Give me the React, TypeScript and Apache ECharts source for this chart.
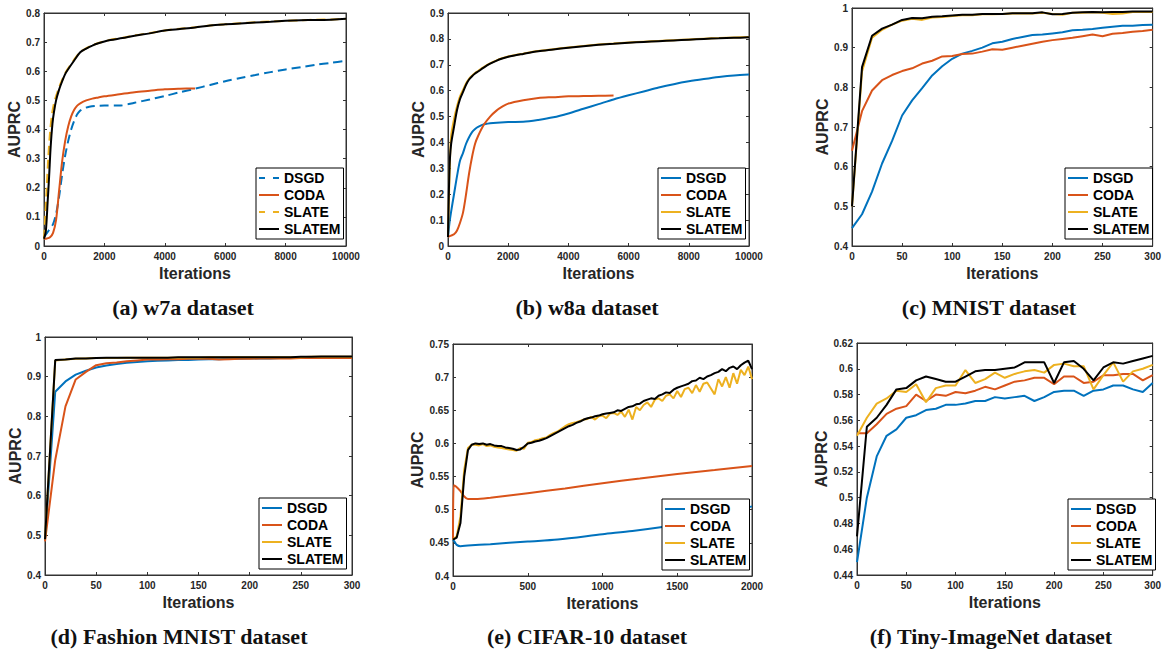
import React, { useEffect, useRef } from "react";
import * as echarts from "echarts";

const METHODS = ["DSGD", "CODA", "SLATE", "SLATEM"];
const COLORS = ["#0072BD", "#D95319", "#EDB120", "#000000"];

// ---------- (a) w7a ----------
const w7aDSGD = [[0,0.03],[100,0.045],[200,0.06],[300,0.075],[400,0.11],[500,0.17],[600,0.245],[700,0.31],[800,0.36],[900,0.4],[1000,0.43],[1100,0.452],[1200,0.465],[1300,0.472],[1500,0.478],[1700,0.481],[2000,0.482],[2500,0.482],[3000,0.492],[3500,0.503],[4000,0.515],[4500,0.528],[5000,0.54],[5500,0.553],[6000,0.566],[6500,0.577],[7000,0.587],[7500,0.597],[8000,0.606],[8500,0.614],[9000,0.622],[9500,0.629],[10000,0.636]];
const w7aCODA = [[0,0.025],[100,0.026],[200,0.03],[300,0.045],[400,0.09],[500,0.19],[600,0.29],[700,0.36],[800,0.41],[900,0.445],[1000,0.468],[1100,0.482],[1200,0.49],[1400,0.5],[1600,0.506],[1800,0.51],[2000,0.514],[2500,0.521],[3000,0.528],[3500,0.533],[4000,0.538],[4500,0.54],[5000,0.541]];
const w7aSLATE = [[0,0.025],[40,0.1],[90,0.2],[140,0.3],[200,0.39],[260,0.45],[330,0.49],[400,0.515],[500,0.545],[600,0.57],[700,0.593],[800,0.61],[1000,0.64],[1200,0.666],[1400,0.679],[1600,0.689],[1800,0.697],[2000,0.703],[2200,0.708],[2600,0.715],[3000,0.723],[3500,0.731],[4000,0.74],[4500,0.746],[5000,0.751],[5500,0.757],[6000,0.761],[6500,0.765],[7000,0.768],[7500,0.771],[8000,0.773],[8500,0.775],[9000,0.777],[9500,0.778],[10000,0.78]];
const w7aSLATEM = [[0,0.025],[60,0.05],[120,0.15],[170,0.24],[220,0.34],[280,0.42],[330,0.46],[400,0.5],[500,0.537],[600,0.565],[700,0.59],[800,0.607],[1000,0.637],[1200,0.665],[1400,0.678],[1600,0.688],[1800,0.696],[2000,0.702],[2200,0.707],[2600,0.714],[3000,0.722],[3500,0.73],[4000,0.74],[4500,0.745],[5000,0.75],[5500,0.757],[6000,0.761],[6500,0.764],[7000,0.767],[7500,0.77],[8000,0.773],[8500,0.775],[9000,0.776],[9500,0.777],[10000,0.78]];

// ---------- (b) w8a ----------
const w8aDSGD = [[0,0.035],[50,0.09],[100,0.13],[200,0.2],[300,0.27],[400,0.33],[500,0.36],[600,0.395],[700,0.42],[800,0.44],[900,0.452],[1000,0.46],[1200,0.47],[1500,0.475],[2000,0.479],[2500,0.48],[3000,0.487],[3500,0.497],[4000,0.512],[4500,0.53],[5000,0.548],[5500,0.566],[6000,0.582],[6500,0.597],[7000,0.612],[7500,0.625],[8000,0.636],[8500,0.645],[9000,0.653],[9500,0.659],[10000,0.662]];
const w8aCODA = [[0,0.035],[100,0.04],[200,0.045],[300,0.06],[400,0.09],[500,0.13],[600,0.2],[700,0.28],[800,0.345],[900,0.395],[1000,0.425],[1200,0.47],[1400,0.5],[1600,0.522],[1800,0.538],[2000,0.55],[2500,0.563],[3000,0.572],[3500,0.575],[4000,0.578],[4500,0.579],[5000,0.58],[5500,0.581]];
const w8aSLATE = [[0,0.035],[50,0.27],[100,0.42],[200,0.49],[300,0.54],[400,0.578],[500,0.603],[600,0.628],[700,0.646],[800,0.658],[900,0.668],[1000,0.676],[1200,0.692],[1400,0.705],[1600,0.716],[1800,0.725],[2000,0.732],[2500,0.743],[3000,0.753],[3500,0.76],[4000,0.767],[4500,0.773],[5000,0.778],[5500,0.782],[6000,0.786],[6500,0.789],[7000,0.792],[7500,0.795],[8000,0.798],[8500,0.801],[9000,0.803],[9500,0.805],[10000,0.807]];
const w8aSLATEM = [[0,0.035],[50,0.3],[100,0.39],[200,0.46],[300,0.525],[400,0.568],[500,0.595],[600,0.623],[700,0.643],[800,0.656],[900,0.666],[1000,0.674],[1200,0.69],[1400,0.704],[1600,0.715],[1800,0.724],[2000,0.731],[2500,0.742],[3000,0.752],[3500,0.759],[4000,0.766],[4500,0.772],[5000,0.777],[5500,0.781],[6000,0.785],[6500,0.788],[7000,0.791],[7500,0.794],[8000,0.797],[8500,0.8],[9000,0.802],[9500,0.804],[10000,0.806]];

// ---------- shared iteration grid for (c), (d), (f) ----------
const iters300 = [0,10,20,30,40,50,60,70,80,90,100,110,120,130,140,150,160,170,180,190,200,210,220,230,240,250,260,270,280,290,300];

// ---------- (c) MNIST ----------
const mnistDSGD = [0.445,0.48,0.537,0.608,0.665,0.729,0.767,0.798,0.83,0.853,0.872,0.885,0.892,0.9,0.911,0.915,0.922,0.927,0.932,0.933,0.936,0.939,0.944,0.945,0.947,0.95,0.953,0.955,0.955,0.957,0.958];
const mnistCODA = [0.64,0.74,0.792,0.818,0.831,0.841,0.848,0.86,0.867,0.878,0.879,0.884,0.885,0.89,0.896,0.895,0.9,0.905,0.91,0.915,0.919,0.922,0.925,0.929,0.933,0.929,0.935,0.937,0.94,0.942,0.945];
const mnistSLATE = [0.5,0.84,0.925,0.945,0.958,0.968,0.973,0.97,0.976,0.977,0.98,0.982,0.982,0.984,0.984,0.985,0.986,0.986,0.986,0.988,0.985,0.983,0.988,0.988,0.989,0.988,0.985,0.986,0.99,0.99,0.99];
const mnistSLATEM = [0.5,0.851,0.93,0.948,0.958,0.97,0.975,0.974,0.978,0.979,0.981,0.983,0.983,0.985,0.985,0.985,0.987,0.987,0.987,0.989,0.984,0.985,0.988,0.989,0.99,0.989,0.99,0.99,0.991,0.991,0.991];

// ---------- (d) Fashion MNIST ----------
const fmnistDSGD = [0.49,0.862,0.888,0.905,0.915,0.923,0.928,0.932,0.935,0.937,0.939,0.94,0.941,0.942,0.942,0.943,0.944,0.944,0.945,0.945,0.946,0.946,0.946,0.947,0.947,0.947,0.947,0.948,0.948,0.948,0.948];
const fmnistCODA = [0.485,0.69,0.825,0.893,0.912,0.929,0.934,0.936,0.939,0.941,0.943,0.943,0.944,0.944,0.945,0.945,0.945,0.943,0.944,0.945,0.945,0.946,0.946,0.946,0.946,0.947,0.947,0.947,0.947,0.947,0.947];
const fmnistSLATE = [0.49,0.941,0.943,0.945,0.946,0.947,0.947,0.947,0.948,0.948,0.948,0.948,0.948,0.948,0.948,0.948,0.949,0.949,0.949,0.949,0.949,0.949,0.949,0.949,0.949,0.949,0.95,0.95,0.95,0.95,0.95];
const fmnistSLATEM = [0.49,0.942,0.943,0.946,0.946,0.947,0.948,0.948,0.948,0.948,0.948,0.948,0.948,0.949,0.949,0.949,0.949,0.949,0.949,0.949,0.949,0.949,0.949,0.949,0.949,0.95,0.95,0.951,0.951,0.951,0.951];

// ---------- (e) CIFAR-10 ----------
const cifarDSGD = [[0,0.455],[10,0.452],[25,0.447],[50,0.445],[100,0.446],[250,0.448],[500,0.452],[700,0.455],[1000,0.463],[1200,0.468],[1400,0.474],[1600,0.481],[1700,0.487],[1800,0.493],[1900,0.499],[2000,0.505]];
const cifarCODA = [[0,0.455],[5,0.537],[20,0.535],[50,0.528],[75,0.52],[100,0.516],[150,0.516],[250,0.518],[500,0.525],[750,0.532],[1000,0.54],[1250,0.547],[1500,0.554],[1750,0.56],[2000,0.566]];
const cifarIters = [0,25,50,75,100,125,150,175,200,225,250,275,300,325,350,375,400,425,450,475,500,525,550,575,600,625,650,675,700,725,750,775,800,825,850,875,900,925,950,975,1000,1025,1050,1075,1100,1125,1150,1175,1200,1225,1250,1275,1300,1325,1350,1375,1400,1425,1450,1475,1500,1525,1550,1575,1600,1625,1650,1675,1700,1725,1750,1775,1800,1825,1850,1875,1900,1925,1950,1975,2000];
const cifarSLATE = [0.455,0.46,0.49,0.56,0.593,0.598,0.598,0.597,0.599,0.596,0.597,0.595,0.594,0.593,0.592,0.591,0.59,0.589,0.593,0.592,0.601,0.602,0.605,0.606,0.608,0.609,0.613,0.616,0.618,0.622,0.626,0.629,0.631,0.632,0.634,0.636,0.637,0.64,0.636,0.641,0.642,0.638,0.645,0.646,0.643,0.648,0.64,0.651,0.636,0.655,0.65,0.658,0.662,0.655,0.666,0.668,0.664,0.672,0.674,0.668,0.679,0.67,0.682,0.684,0.676,0.688,0.678,0.69,0.692,0.683,0.674,0.697,0.686,0.7,0.684,0.706,0.69,0.711,0.703,0.716,0.697];
const cifarSLATEM = [0.455,0.458,0.48,0.55,0.59,0.598,0.6,0.599,0.6,0.598,0.599,0.597,0.596,0.596,0.594,0.593,0.592,0.59,0.591,0.595,0.6,0.601,0.603,0.604,0.606,0.608,0.611,0.614,0.617,0.62,0.623,0.626,0.628,0.631,0.633,0.636,0.638,0.639,0.641,0.642,0.644,0.645,0.646,0.647,0.65,0.649,0.652,0.655,0.656,0.659,0.66,0.664,0.666,0.668,0.667,0.672,0.674,0.677,0.676,0.681,0.684,0.686,0.688,0.69,0.694,0.695,0.699,0.697,0.701,0.703,0.706,0.708,0.712,0.709,0.714,0.716,0.712,0.718,0.722,0.725,0.712];

// ---------- (f) Tiny-ImageNet ----------
const tinyDSGD = [0.45,0.5,0.532,0.548,0.553,0.562,0.564,0.568,0.569,0.572,0.572,0.573,0.575,0.575,0.578,0.577,0.578,0.579,0.575,0.578,0.582,0.583,0.583,0.579,0.583,0.584,0.587,0.587,0.584,0.582,0.589];
const tinyCODA = [0.55,0.55,0.557,0.565,0.569,0.571,0.58,0.575,0.58,0.579,0.582,0.581,0.583,0.586,0.584,0.587,0.59,0.591,0.593,0.593,0.588,0.594,0.594,0.589,0.59,0.595,0.595,0.596,0.596,0.591,0.595];
const tinySLATE = [0.548,0.562,0.573,0.577,0.583,0.582,0.588,0.574,0.585,0.587,0.587,0.599,0.589,0.592,0.597,0.593,0.596,0.598,0.599,0.597,0.603,0.604,0.602,0.602,0.584,0.595,0.605,0.59,0.598,0.6,0.603];
const tinySLATEM = [0.47,0.555,0.562,0.572,0.584,0.585,0.591,0.594,0.592,0.59,0.59,0.594,0.598,0.599,0.599,0.6,0.601,0.605,0.605,0.605,0.589,0.605,0.606,0.6,0.591,0.601,0.605,0.604,0.606,0.608,0.61];

const zipXY = (xs: number[], ys: number[]) => xs.map((x, i) => [x, ys[i]]);

type Panel = {
  caption: string;
  grid: { left: number; top: number; width: number; height: number };
  xMax: number; xInterval: number;
  yMin: number; yMax: number; yInterval: number;
  data: number[][][];
  dashed: boolean[];
  smooth: boolean[];
  legend: { left: number; top: number };
  cap: { x: number; y: number };
  nameGap: number;
};

const panels: Panel[] = [
  { caption: "(a) w7a dataset", grid: { left: 44, top: 13, width: 302, height: 233 }, xMax: 10000, xInterval: 2000, yMin: 0, yMax: 0.8, yInterval: 0.1,
    data: [w7aDSGD, w7aCODA, w7aSLATE, w7aSLATEM], dashed: [true, false, true, false], smooth: [true, true, true, true],
    legend: { left: 256, top: 168 }, cap: { x: 183, y: 307 }, nameGap: 19.5 },
  { caption: "(b) w8a dataset", grid: { left: 448, top: 13, width: 301, height: 233 }, xMax: 10000, xInterval: 2000, yMin: 0, yMax: 0.9, yInterval: 0.1,
    data: [w8aDSGD, w8aCODA, w8aSLATE, w8aSLATEM], dashed: [false, false, false, false], smooth: [true, true, true, true],
    legend: { left: 658, top: 168 }, cap: { x: 587, y: 307 }, nameGap: 19.5 },
  { caption: "(c) MNIST dataset", grid: { left: 852, top: 8, width: 306, height: 238 }, xMax: 300, xInterval: 50, yMin: 0.4, yMax: 1, yInterval: 0.1,
    data: [zipXY(iters300, mnistDSGD), zipXY(iters300, mnistCODA), zipXY(iters300, mnistSLATE), zipXY(iters300, mnistSLATEM)], dashed: [false, false, false, false], smooth: [false, false, false, false],
    legend: { left: 1065, top: 168 }, cap: { x: 989, y: 307 }, nameGap: 19.5 },
  { caption: "(d) Fashion MNIST dataset", grid: { left: 45, top: 337, width: 307, height: 238 }, xMax: 300, xInterval: 50, yMin: 0.4, yMax: 1, yInterval: 0.1,
    data: [zipXY(iters300, fmnistDSGD), zipXY(iters300, fmnistCODA), zipXY(iters300, fmnistSLATE), zipXY(iters300, fmnistSLATEM)], dashed: [false, false, false, false], smooth: [false, false, false, false],
    legend: { left: 259, top: 498 }, cap: { x: 179, y: 636 }, nameGap: 19.5 },
  { caption: "(e) CIFAR-10 dataset", grid: { left: 453, top: 344, width: 299, height: 232 }, xMax: 2000, xInterval: 500, yMin: 0.4, yMax: 0.75, yInterval: 0.05,
    data: [cifarDSGD, cifarCODA, zipXY(cifarIters, cifarSLATE), zipXY(cifarIters, cifarSLATEM)], dashed: [false, false, false, false], smooth: [true, true, false, false],
    legend: { left: 662, top: 499 }, cap: { x: 587, y: 636 }, nameGap: 24.5 },
  { caption: "(f) Tiny-ImageNet dataset", grid: { left: 857, top: 343, width: 301, height: 232 }, xMax: 300, xInterval: 50, yMin: 0.44, yMax: 0.62, yInterval: 0.02,
    data: [zipXY(iters300, tinyDSGD), zipXY(iters300, tinyCODA), zipXY(iters300, tinySLATE), zipXY(iters300, tinySLATEM)], dashed: [false, false, false, false], smooth: [false, false, false, false],
    legend: { left: 1068, top: 499 }, cap: { x: 991, y: 636 }, nameGap: 24.5 },
];

const AXIS_COLOR = "#333333";
const FONT = "Liberation Sans";
const ICON_SOLID = "path://M0,0H20V2H0Z";
const ICON_DASHED = "path://M0,0H6V2H0ZM14,0H20V2H14Z";

function buildOption() {
  const grid: any[] = [];
  const xAxis: any[] = [];
  const yAxis: any[] = [];
  const series: any[] = [];
  const legend: any[] = [];
  const graphic: any[] = [];

  panels.forEach((p, i) => {
    grid.push({ ...p.grid, show: true, borderColor: AXIS_COLOR, borderWidth: 1, backgroundColor: "transparent" });
    const axisLine = { show: true, onZero: false, lineStyle: { color: AXIS_COLOR, width: 1 } };
    const axisTick = { show: true, inside: true, length: 3, lineStyle: { color: AXIS_COLOR, width: 1 } };
    const labelStyle = { fontSize: 10, fontWeight: "bold", color: "#262626", fontFamily: FONT };
    xAxis.push({
      type: "value", gridIndex: i, position: "bottom", min: 0, max: p.xMax, interval: p.xInterval,
      axisLine, axisTick, splitLine: { show: false },
      axisLabel: { ...labelStyle, margin: 5, formatter: (v: number) => String(v) },
      name: "Iterations", nameLocation: "middle", nameGap: 19,
      nameTextStyle: { fontSize: 16, fontWeight: "bold", color: "#262626", fontFamily: FONT },
    });
    xAxis.push({
      type: "value", gridIndex: i, position: "top", min: 0, max: p.xMax, interval: p.xInterval,
      axisLine, axisTick, splitLine: { show: false }, axisLabel: { show: false },
    });
    yAxis.push({
      type: "value", gridIndex: i, position: "left", min: p.yMin, max: p.yMax, interval: p.yInterval,
      axisLine, axisTick, splitLine: { show: false },
      axisLabel: { ...labelStyle, margin: 4 },
      name: "AUPRC", nameLocation: "middle", nameGap: p.nameGap, nameRotate: 90,
      nameTextStyle: { fontSize: 16, fontWeight: "bold", color: "#262626", fontFamily: FONT },
    });
    yAxis.push({
      type: "value", gridIndex: i, position: "right", min: p.yMin, max: p.yMax, interval: p.yInterval,
      axisLine, axisTick, splitLine: { show: false }, axisLabel: { show: false },
    });

    METHODS.forEach((m, k) => {
      series.push({
        type: "line", name: m, xAxisIndex: 2 * i, yAxisIndex: 2 * i,
        data: p.data[k], symbol: "none", showSymbol: false, smooth: p.smooth[k] ? 0.3 : false,
        lineStyle: { color: COLORS[k], width: 2, type: p.dashed[k] ? [9, 5] : "solid" },
        itemStyle: { color: COLORS[k] },
        silent: true,
      });
    });

    legend.push({
      left: p.legend.left, top: p.legend.top, orient: "vertical",
      itemWidth: 20, itemHeight: 14, itemGap: 1, padding: [2, 3, 2, 3],
      symbolKeepAspect: true,
      borderColor: "#000", borderWidth: 1, backgroundColor: "#fff", selectedMode: false,
      textStyle: { fontSize: 14, fontWeight: "bold", color: "#000", fontFamily: FONT, lineHeight: 16 },
      data: METHODS.map((m, k) => ({
        name: m,
        icon: p.dashed[k] ? ICON_DASHED : ICON_SOLID,
        itemStyle: { color: COLORS[k], borderWidth: 0 },
      })),
    });

    graphic.push({
      type: "text", x: p.cap.x, y: p.cap.y,
      style: {
        text: p.caption, align: "center", verticalAlign: "middle",
        fontSize: 22, fontWeight: "bold", fontFamily: "Liberation Serif", fill: "#111",
      },
    });
  });

  return {
    animation: false,
    backgroundColor: "#fff",
    textStyle: { fontFamily: FONT },
    grid, xAxis, yAxis, series, legend, graphic,
  };
}

export default function App() {
  const ref = useRef<HTMLDivElement>(null);
  useEffect(() => {
    document.body.style.margin = "0";
    if (!ref.current) return;
    const chart = echarts.init(ref.current, null, { renderer: "svg" });
    chart.setOption(buildOption() as any);
    return () => chart.dispose();
  }, []);
  return <div ref={ref} style={{ width: 1164, height: 650, position: "absolute", left: 0, top: 0 }} />;
}
